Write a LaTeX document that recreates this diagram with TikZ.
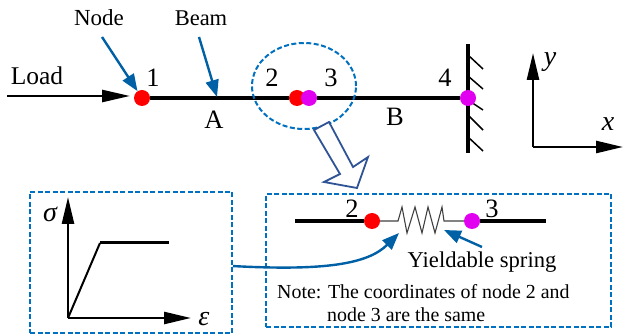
\documentclass[tikz,border=0pt]{standalone}
\usepackage{fontspec}
\setmainfont{Liberation Serif}
\usepackage{xcolor}
\usetikzlibrary{shapes.geometric,arrows.meta,positioning}
\definecolor{beamblue}{RGB}{0,96,165}
\definecolor{dashblue}{RGB}{0,112,192}
\definecolor{hollowblue}{RGB}{47,84,150}
\definecolor{nodered}{RGB}{255,0,0}
\definecolor{nodemagenta}{RGB}{225,0,240}
\begin{document}
\begin{tikzpicture}[x=1pt, y=-1pt,
    fem/.style={circle, minimum size=16pt, inner sep=0pt},
    lbl/.style={inner sep=0pt, font=\fontsize{26.5}{27}\selectfont},
    small/.style={inner sep=0pt, anchor=west, font=\fontsize{19.9}{20}\selectfont},
    ital/.style={inner sep=0pt, font=\fontsize{28}{28}\selectfont\itshape},
    dashbox/.style={draw=dashblue, line width=2pt, dash pattern=on 5pt off 2.5pt},
    beam/.style={line width=4pt},
    callout/.style={draw=beamblue, line width=2.4pt, -{Triangle[length=17pt,width=13pt]}},
    axis/.style={line width=2.5pt, -{Triangle[length=27pt,width=12pt]}}]

    \useasboundingbox (0,0) rectangle (623,336);

    % wall
    \coordinate (walltop) at (468,44);
    \coordinate (wallbot) at (468,153);
    \draw[line width=3.2pt] (walltop) -- (wallbot);
    \foreach \ya/\yb in {55/69, 76/89, 100/110, 115/130, 137/151}
        \draw[line width=1.5pt] (468,\ya) -- (483,\yb);

    % nodes on the beam
    \node[fem, fill=nodered] (n1) at (142,98) {};
    \node[fem, fill=nodered] (n2) at (297,98) {};
    \node[fem, fill=nodemagenta] (n3) at (309,98) {};
    \node[fem, fill=nodemagenta] (n4) at (468,98) {};
    \draw[beam] (n1) -- (n2);
    \draw[beam] (n3) -- (n4);

    \node[lbl] (num1) at (153,78) {1};
    \node[lbl] (num2) at (272,78) {2};
    \node[lbl] (num3) at (331,78) {3};
    \node[lbl] (num4) at (445,78) {4};
    \node[lbl] (parta) at (214,120) {A};
    \node[lbl] (partb) at (395,117) {B};

    \node[lbl, font=\fontsize{25.5}{26}\selectfont] (load) at (37,76) {Load};
    \node[lbl, font=\fontsize{23}{23}\selectfont] (nodetxt) at (99,18) {Node};
    \node[lbl, font=\fontsize{22.5}{23}\selectfont] (beamtxt) at (201,18) {Beam};

    \coordinate (loadstart) at (7,96);
    \coordinate (loadend) at (130,96);
    \coordinate (nodestart) at (102,37);
    \coordinate (beamstart) at (199,37);
    \coordinate (beamend) at (217,97);
    \draw[line width=2.5pt, -{Triangle[length=28pt,width=12pt]}] (loadstart) -- (loadend);
    \draw[callout] (nodestart) -- (n1);
    \draw[callout] (beamstart) -- (beamend);

    % zoom ring and hollow arrow
    \node[dashbox, ellipse, minimum width=104pt, minimum height=86pt] (ring) at (304,86) {};
    \draw[hollowblue, fill=white, line width=1.8pt, line join=miter]
        (314,130) -- (329,122) -- (353,167) -- (368,157) -- (357,188) -- (324,182) -- (340,174) -- cycle;

    % axes top right
    \coordinate (xyorigin) at (533,147);
    \coordinate (ytip) at (533,53);
    \coordinate (xtip) at (623,147);
    \draw[axis] (xyorigin) -- (ytip);
    \draw[axis] (xyorigin) -- (xtip);
    \node[ital] (ylab) at (550,62) {y};
    \node[ital] (xlab) at (608,124) {x};

    % material law box
    \node[dashbox, minimum width=202pt, minimum height=141pt, inner sep=0pt] (lawbox) at (131,262.5) {};
    \coordinate (laworigin) at (68,318);
    \coordinate (sigmatip) at (68,197);
    \coordinate (epstip) at (191,318);
    \draw[axis] (laworigin) -- (sigmatip);
    \draw[axis] (laworigin) -- (epstip);
    \draw[line width=2pt] (laworigin) -- (100,243);
    \draw[line width=3pt] (100,243) -- (169,243);
    \node[ital] (sigmalab) at (50,214) {σ};
    \node[ital] (epslab) at (204,319) {ε};

    % spring box
    \node[dashbox, minimum width=345pt, minimum height=133pt, inner sep=0pt] (springbox) at (438.5,260.5) {};
    \node[fem, fill=nodered] (s2) at (372,221) {};
    \node[fem, fill=nodemagenta] (s3) at (472,221) {};
    \coordinate (sleft) at (295,221);
    \coordinate (sright) at (546,221);
    \draw[beam] (sleft) -- (s2);
    \draw[beam] (s3) -- (sright);
    \draw[line width=1.1pt, black!75] (s2) -- (398,221) -- (402,207) -- (407,233) -- (415,207) -- (422,233)
        -- (428,207) -- (435,233) -- (442,207) -- (444,221) -- (s3);
    \node[lbl] (snum2) at (352,209) {2};
    \node[lbl] (snum3) at (492,209) {3};

    \node[inner sep=0pt, font=\fontsize{22.6}{23}\selectfont] (yieldtxt) at (482,262) {Yieldable spring};
    \node[small] (note1) at (277,292) {Note: The coordinates of node 2 and};
    \node[small] (note2) at (327,315) {node 3 are the same};

    \coordinate (springstart) at (482,247);
    \coordinate (springend) at (444,230);
    \coordinate (springin) at (399,233);
    \draw[callout] (springstart) -- (springend);
    \draw[callout] (lawbox.-2.5) .. controls (325,271) and (368,264) .. (springin);
\end{tikzpicture}
\end{document}
